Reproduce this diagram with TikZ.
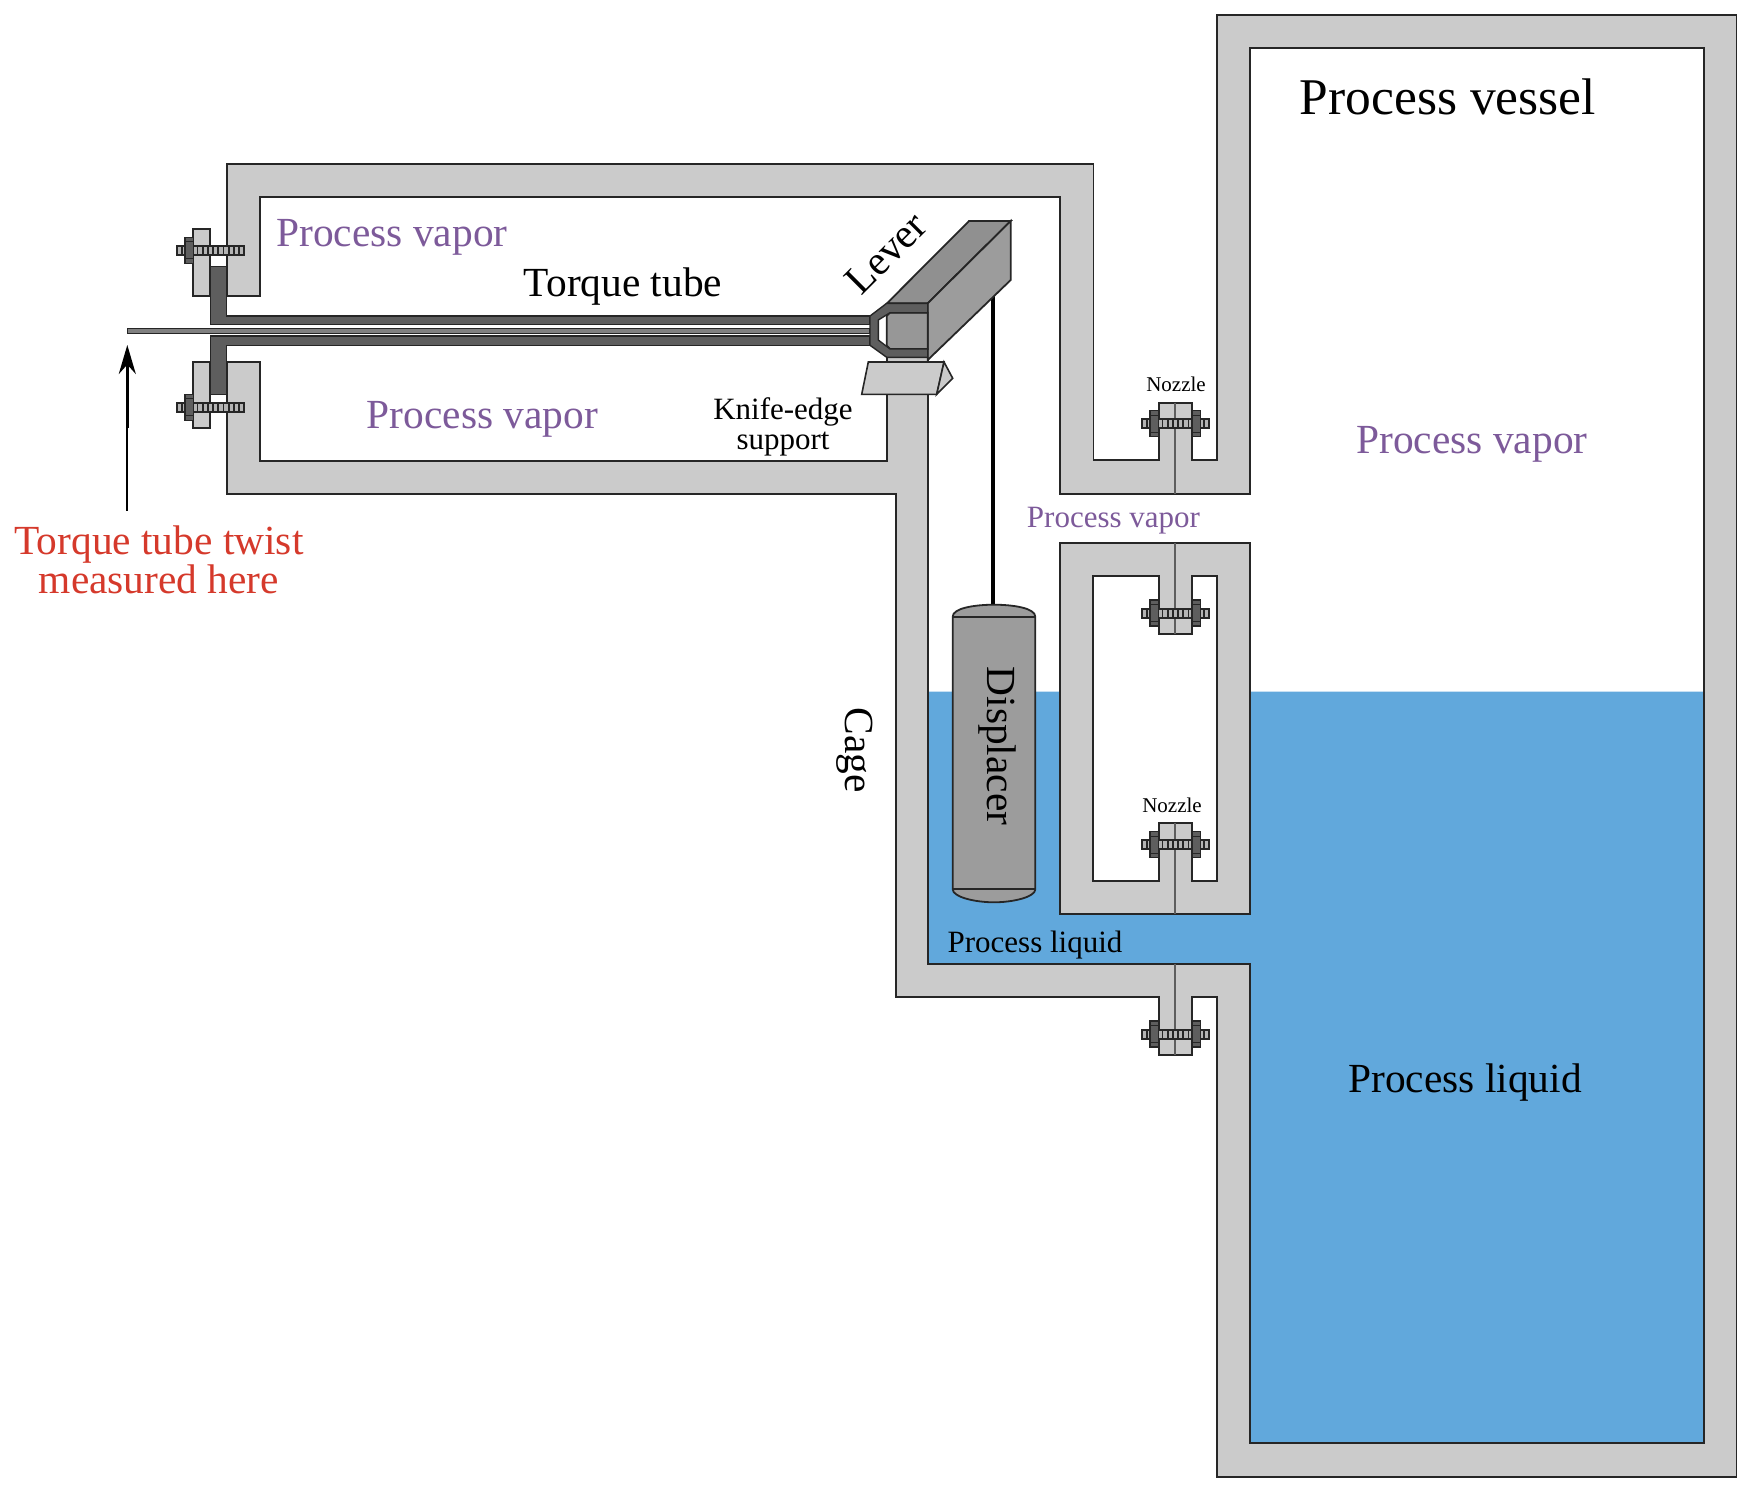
\documentclass[tikz,border=0pt]{standalone}
\usepackage{fontspec}
\setmainfont{Liberation Serif}
\usepackage{tikz}
\usetikzlibrary{arrows.meta}
\definecolor{wallgray}{HTML}{CBCBCB}
\definecolor{edgeblack}{HTML}{262626}
\definecolor{liquidblue}{HTML}{61A8DC}
\definecolor{vaporpurple}{HTML}{7D5A9A}
\definecolor{twistred}{HTML}{D5392B}
\definecolor{forkgray}{HTML}{5E5E5E}
\definecolor{levergray}{HTML}{9C9C9C}
\tikzstyle{wall} = [draw=edgeblack, line width=1.8pt, line join=miter, fill=wallgray]
\tikzstyle{liquid} = [fill=liquidblue]
\tikzstyle{cavity} = [draw=edgeblack, line width=1.8pt, fill=white]
\tikzstyle{tube} = [draw=edgeblack, line width=1.4pt, fill=forkgray]
\tikzstyle{leverface} = [draw=edgeblack, line width=1.8pt, fill=levergray]
\tikzstyle{seam} = [draw=forkgray, line width=2.4pt]
\tikzstyle{cable} = [draw=black, line width=4pt]
\tikzstyle{arrow} = [draw=black, line width=2.6pt, -{Stealth[length=29pt,width=17pt]}]
\tikzstyle{tail} = [draw=black, line width=1.8pt]
\tikzstyle{huge} = [font=\fontsize{51.5}{55}\selectfont, anchor=base]
\tikzstyle{large} = [font=\fontsize{41.4}{36}\selectfont, anchor=base]
\tikzstyle{medium} = [font=\fontsize{31}{30}\selectfont, anchor=base]
\tikzstyle{small} = [font=\fontsize{21}{23}\selectfont, anchor=base]
\newcommand{\boltrod}[2]{
\draw[draw=edgeblack, line width=2pt, fill=wallgray!70!gray] (#1,#2-4.5) rectangle (#1+67,#2+4.5);
\foreach \i in {1,...,12}
\draw[draw=edgeblack, line width=1.7pt] ({#1+\i*5.2},#2-4) -- ({#1+\i*5.2},#2+4);
}
\newcommand{\boltnut}[2]{
\draw[tube] (#1,#2-13) rectangle (#1+8.5,#2+13);
\draw[draw=edgeblack, line width=1pt] (#1,#2-8.5) -- (#1+8.5,#2-8.5);
\draw[draw=edgeblack, line width=1pt] (#1,#2+8.5) -- (#1+8.5,#2+8.5);
}
\begin{document}
\begin{tikzpicture}[x=1pt, y=-1pt]
\useasboundingbox (0,0) rectangle (1750,1492);

\fill[liquid] (927.7,691.7) -- (1704,691.7) -- (1704,1443) -- (1250,1443) -- (1250,963.7) -- (927.7,963.7) -- cycle;

\draw[wall] (226.7,295.7) -- (226.7,164) -- (1093.5,164) -- (1093.5,460.3) -- (1158.7,460.3) -- (1158.7,402.7)
-- (1192,402.7) -- (1192,460.3) -- (1216.7,460.3) -- (1216.7,15) -- (1736.5,15) -- (1736.5,1477) -- (1216.7,1477)
-- (1216.7,996.7) -- (1192,996.7) -- (1192,1055.3) -- (1158.7,1055.3) -- (1158.7,996.7) -- (896,996.7)
-- (896,493.7) -- (226.7,493.7) -- (226.7,361.7) -- (259.7,361.7) -- (259.7,460.7) -- (886.7,460.7)
-- (886.7,357.3) -- (927.7,357.3) -- (927.7,963.7) -- (1250,963.7) -- (1250,1443) -- (1704,1443) -- (1704,48)
-- (1250,48) -- (1250,494) -- (1060,494) -- (1060,196.6) -- (259.7,196.6) -- (259.7,295.7) -- cycle;

\draw[wall] (1060,543) rectangle (1250,914.3);
\draw[cavity] (1092.7,576) -- (1158.7,576) -- (1158.7,634.3) -- (1192,634.3) -- (1192,576) -- (1216.7,576)
-- (1216.7,881.3) -- (1192,881.3) -- (1192,823.3) -- (1158.7,823.3) -- (1158.7,881.3) -- (1092.7,881.3) -- cycle;

\foreach \ya/\yb in {402.7/494, 543/634.3, 823.3/914.3, 963.7/1055.3}
\draw[seam] (1175,\ya) -- (1175,\yb);

\draw[wall] (193.3,229.3) rectangle (210.3,295.7);
\draw[wall] (193.3,361.7) rectangle (210.3,428);

\draw[tube] (210.3,266.3) -- (226.7,266.3) -- (226.7,316) -- (870,316) -- (870,324.7) -- (210.3,324.7) -- cycle;
\draw[tube] (210.3,336) -- (870,336) -- (870,345.3) -- (226.7,345.3) -- (226.7,394.7) -- (210.3,394.7) -- cycle;
\draw[draw=edgeblack, line width=1.2pt, fill=gray] (127.3,328.3) rectangle (870,333.3);

\foreach \yb in {250.2, 407.2} {
\boltrod{176.7}{\yb}
\boltnut{185}{\yb}
}
\foreach \yb in {423.7, 613, 844.5, 1034} {
\boltrod{1141.7}{\yb}
\boltnut{1150}{\yb}
\boltnut{1192}{\yb}
}

\coordinate (leverhook) at (993.3,296);
\coordinate (displacertop) at (993.3,606);
\draw[cable] (leverhook) -- (displacertop);

\draw[leverface, fill=levergray!92!black] (887,303.3) -- (969,221) -- (1010.7,221) -- (927.7,303.3) -- cycle;
\draw[leverface] (927.7,303.3) -- (1010.7,221) -- (1010.7,280) -- (927.7,360) -- cycle;
\draw[leverface, fill=levergray!105!white] (890,312.7) -- (927.7,312.7) -- (927.7,349) -- (890,349) -- (886.7,345.7) -- (886.7,316) -- cycle;
\draw[tube] (870,316) -- (886.7,303.3) -- (927.7,303.3) -- (927.7,312.7) -- (890,312.7) -- (878.3,320) -- (878.3,340)
-- (890,349) -- (927.7,349) -- (927.7,357.3) -- (886.7,357.3) -- (870,345.3) -- cycle;

\draw[wall, line width=1.6pt] (868.3,362) -- (944,362) -- (936.7,394.3) -- (861.7,394.3) -- cycle;
\draw[wall, line width=1.6pt] (944,362) -- (952.7,378.3) -- (936.7,394.3) -- cycle;

\draw[leverface, fill=levergray] (952.7,616.7) .. controls (952.7,608) and (975,604.7) .. (994,604.7)
.. controls (1013,604.7) and (1035.3,608) .. (1035.3,616.7) -- (1035.3,889.3)
.. controls (1035.3,897) and (1013,902.3) .. (994,902.3)
.. controls (975,902.3) and (952.7,897) .. (952.7,889.3) -- cycle;
\draw[leverface] (952.7,616.7) -- (1035.3,616.7);
\draw[leverface] (952.7,889.3) -- (1035.3,889.3);

\node(vessel)[huge] at (1448,114.5) {Process vessel};
\node(vaporTop)[large, vaporpurple] at (392,246) {Process vapor};
\node(vaporLow)[large, vaporpurple] at (482.5,428) {Process vapor};
\node(vaporVessel)[large, vaporpurple] at (1472,453) {Process vapor};
\node(vaporGap)[medium, vaporpurple] at (1113.5,527) {Process vapor};
\node(torque)[large] at (623,296) {Torque tube};
\node(knife)[medium, align=center, anchor=center] at (783,426.5) {Knife-edge\\support};
\node(nozzleUp)[small] at (1176,391) {Nozzle};
\node(nozzleLow)[small] at (1172,812) {Nozzle};
\node(liquidCage)[medium] at (1035,952) {Process liquid};
\node(liquidVessel)[large] at (1465,1092) {Process liquid};
\node(cage)[large, anchor=center, rotate=-90] at (855,750) {Cage};
\node(displacer)[large, anchor=center, rotate=-90] at (997,746) {Displacer};
\node(lever)[large, anchor=center, rotate=45] at (886,253) {Lever};
\node(twist)[large, twistred, align=center, anchor=center] at (159,560) {Torque tube twist\\measured here};

\coordinate (rodmark) at (127.3,345);
\coordinate (arrowfoot) at (127.3,510.7);
\coordinate (arrowmid) at (127.3,428);
\draw[tail] (arrowfoot) -- (arrowmid);
\draw[arrow] (arrowmid) -- (rodmark);

\end{tikzpicture}
\end{document}
